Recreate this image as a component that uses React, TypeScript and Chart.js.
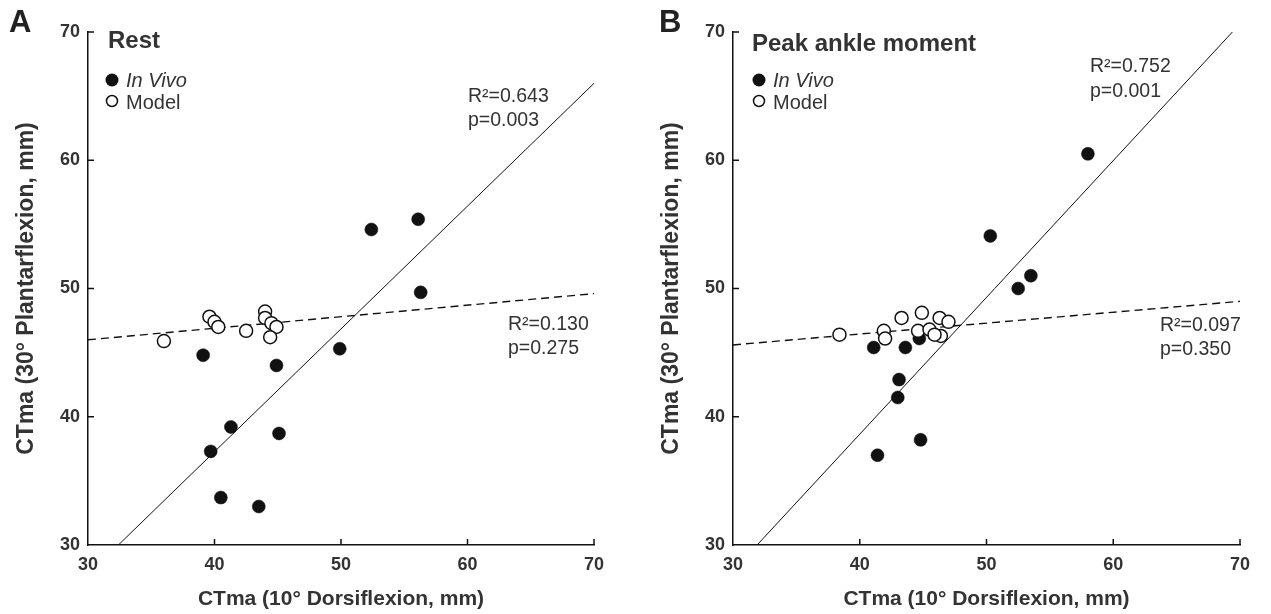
import React, { useEffect, useRef } from "react";
import { Chart, registerables } from "chart.js";

Chart.register(...registerables);

// ---------- Data ----------
const axisTicks = [30, 40, 50, 60, 70];

const restInVivoX = [39.1, 39.7, 41.3, 40.5, 43.5, 44.9, 45.1, 49.9, 52.4, 56.1, 56.3];
const restInVivoY = [44.8, 37.3, 39.2, 33.7, 33.0, 44.0, 38.7, 45.3, 54.6, 55.4, 49.7];
const restModelX = [36.0, 39.6, 40.0, 40.3, 42.5, 44.0, 44.0, 44.5, 44.9, 44.4];
const restModelY = [45.9, 47.8, 47.4, 47.0, 46.7, 48.2, 47.7, 47.3, 47.0, 46.2];
const restInVivoFitX = [32.4, 70];
const restInVivoFitY = [30, 66.0];
const restModelFitX = [30, 70];
const restModelFitY = [46.0, 49.6];

const peakInVivoX = [41.1, 43.6, 44.7, 43.1, 43.0, 44.8, 41.4, 50.3, 52.5, 53.5, 58.0];
const peakInVivoY = [45.4, 45.4, 46.1, 42.9, 41.5, 38.2, 37.0, 54.1, 50.0, 51.0, 60.5];
const peakModelX = [38.4, 41.9, 42.0, 43.3, 44.9, 44.6, 45.5, 46.3, 47.0, 46.4, 45.9];
const peakModelY = [46.4, 46.7, 46.1, 47.7, 48.1, 46.7, 46.8, 47.7, 47.4, 46.3, 46.4];
const peakInVivoFitX = [31.9, 69.4];
const peakInVivoFitY = [30, 70];
const peakModelFitX = [30, 70];
const peakModelFitY = [45.6, 49.0];

const xTitle = "CTma (10° Dorsiflexion, mm)";
const yTitle = "CTma (30° Plantarflexion, mm)";

const FONT = "'Liberation Sans', Arial, Helvetica, sans-serif";
const INK = "#111";
const TEXT = "#333";

type TextItem = { text: string; x: number; y: number };

type Panel = {
  letter: string;
  letterX: number;
  title: string;
  titleX: number;
  titleY: number;
  inVivoX: number[];
  inVivoY: number[];
  modelX: number[];
  modelY: number[];
  fitX: number[];
  fitY: number[];
  mfitX: number[];
  mfitY: number[];
  stats: TextItem[];
  legendX: number;
  canvasLeft: number;
  canvasWidth: number;
  padRight: number;
};

const panels: Panel[] = [
  {
    letter: "A",
    letterX: 9,
    title: "Rest",
    titleX: 108,
    titleY: 48,
    inVivoX: restInVivoX,
    inVivoY: restInVivoY,
    modelX: restModelX,
    modelY: restModelY,
    fitX: restInVivoFitX,
    fitY: restInVivoFitY,
    mfitX: restModelFitX,
    mfitY: restModelFitY,
    stats: [
      { text: "R²=0.643", x: 468, y: 102 },
      { text: "p=0.003", x: 468, y: 126 },
      { text: "R²=0.130", x: 508, y: 330 },
      { text: "p=0.275", x: 508, y: 354 },
    ],
    legendX: 112,
    canvasLeft: 0,
    canvasWidth: 635,
    padRight: 41,
  },
  {
    letter: "B",
    letterX: 14,
    title: "Peak ankle moment",
    titleX: 107,
    titleY: 51,
    inVivoX: peakInVivoX,
    inVivoY: peakInVivoY,
    modelX: peakModelX,
    modelY: peakModelY,
    fitX: peakInVivoFitX,
    fitY: peakInVivoFitY,
    mfitX: peakModelFitX,
    mfitY: peakModelFitY,
    stats: [
      { text: "R²=0.752", x: 445, y: 72 },
      { text: "p=0.001", x: 445, y: 97 },
      { text: "R²=0.097", x: 515, y: 331 },
      { text: "p=0.350", x: 515, y: 355 },
    ],
    legendX: 114,
    canvasLeft: 645,
    canvasWidth: 626,
    padRight: 31,
  },
];

const zip = (xs: number[], ys: number[]) => xs.map((x, i) => ({ x, y: ys[i] }));

function makeConfig(p: Panel): any {
  const annot = {
    id: "annot",
    afterDraw(chart: any) {
      const ctx = chart.ctx as CanvasRenderingContext2D;
      const xs = chart.scales.x;
      const ys = chart.scales.y;
      ctx.save();
      // inward tick marks
      ctx.strokeStyle = INK;
      ctx.lineWidth = 1.5;
      ctx.beginPath();
      axisTicks.slice(1).forEach((v) => {
        const px = xs.getPixelForValue(v);
        ctx.moveTo(px, ys.bottom);
        ctx.lineTo(px, ys.bottom - 6);
        const py = ys.getPixelForValue(v);
        ctx.moveTo(xs.left, py);
        ctx.lineTo(xs.left + 6, py);
      });
      ctx.stroke();

      // panel letter
      ctx.fillStyle = "#222";
      ctx.textBaseline = "alphabetic";
      ctx.textAlign = "left";
      ctx.font = `bold 31px ${FONT}`;
      ctx.fillText(p.letter, p.letterX, 32);

      // title
      ctx.fillStyle = TEXT;
      ctx.font = `bold 24px ${FONT}`;
      ctx.fillText(p.title, p.titleX, p.titleY);

      // legend
      const lx = p.legendX;
      ctx.beginPath();
      ctx.arc(lx, 80, 6.5, 0, Math.PI * 2);
      ctx.fillStyle = INK;
      ctx.fill();
      ctx.beginPath();
      ctx.arc(lx, 101, 5.5, 0, Math.PI * 2);
      ctx.fillStyle = "#fff";
      ctx.fill();
      ctx.lineWidth = 1.5;
      ctx.strokeStyle = INK;
      ctx.stroke();
      ctx.fillStyle = TEXT;
      ctx.font = `italic 20px ${FONT}`;
      ctx.fillText("In Vivo", lx + 14, 87);
      ctx.font = `20px ${FONT}`;
      ctx.fillText("Model", lx + 14, 109);

      // stats
      ctx.font = `19.5px ${FONT}`;
      p.stats.forEach((s) => ctx.fillText(s.text, s.x, s.y));
      ctx.restore();
    },
  };

  return {
    type: "scatter",
    data: {
      datasets: [
        {
          label: "Model",
          data: zip(p.modelX, p.modelY),
          pointRadius: 6.5,
          pointBackgroundColor: "#fff",
          pointBorderColor: INK,
          pointBorderWidth: 1.5,
          order: 0,
        },
        {
          label: "In Vivo",
          data: zip(p.inVivoX, p.inVivoY),
          pointRadius: 6.5,
          pointBackgroundColor: INK,
          pointBorderColor: INK,
          pointBorderWidth: 0.5,
          order: 1,
        },
        {
          label: "In Vivo fit",
          data: zip(p.fitX, p.fitY),
          showLine: true,
          borderColor: INK,
          borderWidth: 1,
          pointRadius: 0,
          order: 2,
        },
        {
          label: "Model fit",
          data: zip(p.mfitX, p.mfitY),
          showLine: true,
          borderColor: INK,
          borderWidth: 1.4,
          borderDash: [8, 5],
          pointRadius: 0,
          order: 3,
        },
      ],
    },
    options: {
      animation: false,
      responsive: false,
      maintainAspectRatio: false,
      layout: { padding: { left: 0, right: p.padRight, top: 32, bottom: 0 } },
      plugins: { legend: { display: false }, tooltip: { enabled: false } },
      scales: {
        x: {
          type: "linear",
          min: 30,
          max: 70,
          afterBuildTicks: (s: any) => {
            s.ticks = axisTicks.map((v) => ({ value: v }));
          },
          ticks: { padding: 9, color: TEXT, font: { family: FONT, size: 18, weight: "bold" } },
          grid: { display: false, drawTicks: false },
          border: { display: true, color: INK, width: 1.5 },
          title: {
            display: true,
            text: xTitle,
            color: TEXT,
            font: { family: FONT, size: 21, weight: "bold" },
            padding: { top: 0, bottom: 2 },
          },
          afterFit: (s: any) => {
            s.height = 69;
          },
        },
        y: {
          type: "linear",
          min: 30,
          max: 70,
          afterBuildTicks: (s: any) => {
            s.ticks = axisTicks.map((v) => ({ value: v }));
          },
          ticks: { padding: 8, color: TEXT, font: { family: FONT, size: 18, weight: "bold" } },
          grid: { display: false, drawTicks: false },
          border: { display: true, color: INK, width: 1.5 },
          title: {
            display: true,
            text: yTitle,
            color: TEXT,
            font: { family: FONT, size: 23, weight: "bold" },
            padding: { top: 13, bottom: 0 },
          },
          afterFit: (s: any) => {
            s.width = 88;
          },
        },
      },
    },
    plugins: [annot],
  };
}

function PanelChart({ panel }: { panel: Panel }) {
  const ref = useRef<HTMLCanvasElement | null>(null);
  useEffect(() => {
    if (!ref.current) return;
    const chart = new Chart(ref.current, makeConfig(panel));
    return () => chart.destroy();
  }, [panel]);
  return (
    <canvas
      ref={ref}
      width={panel.canvasWidth}
      height={614}
      style={{
        position: "absolute",
        left: panel.canvasLeft,
        top: 0,
        width: panel.canvasWidth,
        height: 614,
      }}
    />
  );
}

export default function App() {
  return (
    <div
      style={{
        position: "absolute",
        left: 0,
        top: 0,
        width: 1271,
        height: 614,
        background: "#fff",
        overflow: "hidden",
      }}
    >
      {panels.map((p) => (
        <PanelChart key={p.letter} panel={p} />
      ))}
    </div>
  );
}
